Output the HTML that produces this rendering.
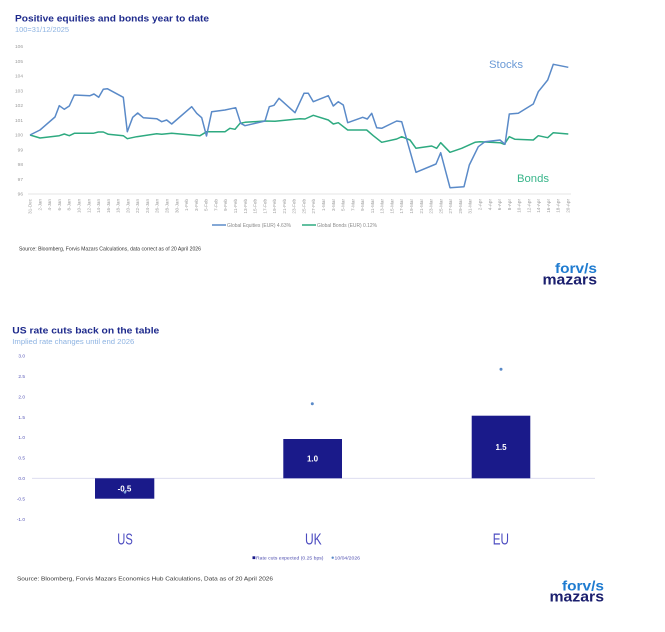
<!DOCTYPE html>
<html><head><meta charset="utf-8"><style>
html,body{margin:0;padding:0;background:#fff;}
svg{display:block;font-family:"Liberation Sans",Arial,sans-serif;}
.tk{font-size:4.6px;fill:#9a9a9a;}
.yl{font-size:4.8px;fill:#9a9a9a;}
.yb{font-size:4.8px;fill:#5a5ab8;}
</style></head><body>
<svg width="665" height="632" viewBox="0 0 665 632" xmlns="http://www.w3.org/2000/svg">
<rect width="665" height="632" fill="#fff"/>
<!-- TOP CHART -->
<text x="15" y="21.7" font-size="9.5" font-weight="bold" fill="#1e2a8c" textLength="194" lengthAdjust="spacingAndGlyphs">Positive equities and bonds year to date</text>
<text x="15" y="32" font-size="7" fill="#8db3e2" textLength="54" lengthAdjust="spacingAndGlyphs">100=31/12/2025</text>
<g class="yl" text-anchor="end">
<text x="23" y="48.2">106</text><text x="23" y="63">105</text><text x="23" y="77.7">104</text><text x="23" y="92.5">103</text><text x="23" y="107.2">102</text><text x="23" y="122">101</text><text x="23" y="136.7">100</text><text x="23" y="151.5">99</text><text x="23" y="166.2">98</text><text x="23" y="181">97</text><text x="23" y="195.7">96</text>
</g>
<line x1="28" y1="194" x2="571" y2="194" stroke="#dcdcdc" stroke-width="0.8"/>
<g class="tk" text-anchor="end">
<text transform="translate(31.6,199) rotate(-90)">31-Dec</text>
<text transform="translate(41.4,199) rotate(-90)">2-Jan</text>
<text transform="translate(51.2,199) rotate(-90)">4-Jan</text>
<text transform="translate(60.9,199) rotate(-90)">6-Jan</text>
<text transform="translate(70.7,199) rotate(-90)">8-Jan</text>
<text transform="translate(80.5,199) rotate(-90)">10-Jan</text>
<text transform="translate(90.3,199) rotate(-90)">12-Jan</text>
<text transform="translate(100.1,199) rotate(-90)">14-Jan</text>
<text transform="translate(109.8,199) rotate(-90)">16-Jan</text>
<text transform="translate(119.6,199) rotate(-90)">18-Jan</text>
<text transform="translate(129.4,199) rotate(-90)">20-Jan</text>
<text transform="translate(139.2,199) rotate(-90)">22-Jan</text>
<text transform="translate(149,199) rotate(-90)">24-Jan</text>
<text transform="translate(158.7,199) rotate(-90)">26-Jan</text>
<text transform="translate(168.5,199) rotate(-90)">28-Jan</text>
<text transform="translate(178.3,199) rotate(-90)">30-Jan</text>
<text transform="translate(188.1,199) rotate(-90)">1-Feb</text>
<text transform="translate(197.9,199) rotate(-90)">3-Feb</text>
<text transform="translate(207.6,199) rotate(-90)">5-Feb</text>
<text transform="translate(217.4,199) rotate(-90)">7-Feb</text>
<text transform="translate(227.2,199) rotate(-90)">9-Feb</text>
<text transform="translate(237,199) rotate(-90)">11-Feb</text>
<text transform="translate(246.8,199) rotate(-90)">13-Feb</text>
<text transform="translate(256.5,199) rotate(-90)">15-Feb</text>
<text transform="translate(266.3,199) rotate(-90)">17-Feb</text>
<text transform="translate(276.1,199) rotate(-90)">19-Feb</text>
<text transform="translate(285.9,199) rotate(-90)">21-Feb</text>
<text transform="translate(295.7,199) rotate(-90)">23-Feb</text>
<text transform="translate(305.4,199) rotate(-90)">25-Feb</text>
<text transform="translate(315.2,199) rotate(-90)">27-Feb</text>
<text transform="translate(325,199) rotate(-90)">1-Mar</text>
<text transform="translate(334.8,199) rotate(-90)">3-Mar</text>
<text transform="translate(344.6,199) rotate(-90)">5-Mar</text>
<text transform="translate(354.3,199) rotate(-90)">7-Mar</text>
<text transform="translate(364.1,199) rotate(-90)">9-Mar</text>
<text transform="translate(373.9,199) rotate(-90)">11-Mar</text>
<text transform="translate(383.7,199) rotate(-90)">13-Mar</text>
<text transform="translate(393.5,199) rotate(-90)">15-Mar</text>
<text transform="translate(403.2,199) rotate(-90)">17-Mar</text>
<text transform="translate(413,199) rotate(-90)">19-Mar</text>
<text transform="translate(422.8,199) rotate(-90)">21-Mar</text>
<text transform="translate(432.6,199) rotate(-90)">23-Mar</text>
<text transform="translate(442.4,199) rotate(-90)">25-Mar</text>
<text transform="translate(452.1,199) rotate(-90)">27-Mar</text>
<text transform="translate(461.9,199) rotate(-90)">29-Mar</text>
<text transform="translate(471.7,199) rotate(-90)">31-Mar</text>
<text transform="translate(481.5,199) rotate(-90)">2-Apr</text>
<text transform="translate(491.3,199) rotate(-90)">4-Apr</text>
<text transform="translate(501,199) rotate(-90)">6-Apr</text>
<text transform="translate(510.8,199) rotate(-90)">8-Apr</text>
<text transform="translate(520.6,199) rotate(-90)">10-Apr</text>
<text transform="translate(530.4,199) rotate(-90)">12-Apr</text>
<text transform="translate(540.2,199) rotate(-90)">14-Apr</text>
<text transform="translate(549.9,199) rotate(-90)">16-Apr</text>
<text transform="translate(559.7,199) rotate(-90)">18-Apr</text>
<text transform="translate(569.5,199) rotate(-90)">20-Apr</text>
</g>
<polyline fill="none" stroke="#2eaa80" stroke-width="1.5" stroke-linejoin="round" points="30,135 40,138 59.3,135.7 64.3,134 69.3,135.7 74.3,133.3 93.3,133.3 98.3,132 103.3,132 108.3,134.3 123.3,135.7 127.3,138.7 136.7,136.7 156.7,133.7 161.7,134.3 171.7,133.3 200,135.7 206.7,131.7 225,131.7 230,128.3 235,129.3 240,123.3 245,122.3 265,121 275,121.3 300,118.7 305,119 313.3,115.3 328.3,120 333.3,124 338.3,122.7 347.7,130 366.7,130 373.3,135.7 381.7,142.3 396.7,139 401.7,136.7 410,140 416,148.3 431.7,146 436.7,148.3 440.7,142.7 450,152.3 461.7,148.3 475,142.3 480,141.7 500,142.7 504.3,144.3 509.3,136.7 515,139.3 533.3,140 538.3,135.7 547.7,137.7 553.3,132.7 568.3,134"/>
<polyline fill="none" stroke="#5a8ac8" stroke-width="1.5" stroke-linejoin="round" points="30,135 40,130 55,117 59.3,105.7 64.3,109.3 69.3,106 74.3,95 90,95.7 94,94 98.7,97.3 103.3,89.3 107.3,88.7 123.3,97.3 127.3,131.7 132.7,117.3 137.7,113 143.3,117.7 156.7,118.7 161.7,121.7 166.7,120 171.7,124 191.7,106.7 196.7,113.3 201.7,117.7 206.5,136 211.7,111.7 225,110 235.7,107.7 240.7,123.3 245,125.7 265,121 269.3,106.7 274,105.3 279,98.3 295,112.7 304,93.3 308.3,93.3 313.3,101.7 328.3,95.7 333.3,106 338.3,101.7 343.3,105 347.7,122.7 362.7,117.3 367.3,119 371.7,113.3 376.7,127.7 381.7,128.3 396.7,121 401.7,121.7 416,172.3 436,164 440.7,152.7 450,187.7 464,186.7 469.3,165 478.3,146.7 485,141.7 500,140 505,144.3 509.3,114 518.3,113.3 533.3,104 538.3,91.7 547.7,80 553.3,64.3 568.3,67.3"/>
<text x="489" y="68" font-size="11" fill="#6b9ad6" textLength="34" lengthAdjust="spacingAndGlyphs">Stocks</text>
<text x="517" y="182" font-size="11" fill="#38b58a" textLength="32" lengthAdjust="spacingAndGlyphs">Bonds</text>
<line x1="212" y1="225" x2="226" y2="225" stroke="#5a8ac8" stroke-width="1.5"/>
<text x="227" y="226.8" font-size="5" fill="#8a8a8a" textLength="64" lengthAdjust="spacingAndGlyphs">Global Equities (EUR) 4.63%</text>
<line x1="302" y1="225" x2="316" y2="225" stroke="#2eaa80" stroke-width="1.5"/>
<text x="317" y="226.8" font-size="5" fill="#8a8a8a" textLength="60" lengthAdjust="spacingAndGlyphs">Global Bonds (EUR) 0.12%</text>
<text x="19" y="250.5" font-size="5" fill="#333" textLength="182" lengthAdjust="spacingAndGlyphs">Source: Bloomberg, Forvis Mazars Calculations, data correct as of 20 April 2026</text>
<text x="555" y="273" font-size="14" font-weight="bold" fill="#1e7bd0" textLength="42" lengthAdjust="spacingAndGlyphs">forv/s</text>
<text x="542.5" y="284.5" font-size="15" font-weight="bold" fill="#1b1f6e" textLength="54.5" lengthAdjust="spacingAndGlyphs">mazars</text>

<!-- BOTTOM CHART -->
<text x="12.3" y="333.5" font-size="9.5" font-weight="bold" fill="#1e2a8c" textLength="147" lengthAdjust="spacingAndGlyphs">US rate cuts back on the table</text>
<text x="12.3" y="343.8" font-size="7.5" fill="#8db3e2" textLength="122" lengthAdjust="spacingAndGlyphs">Implied rate changes until end 2026</text>
<g class="yb" text-anchor="end">
<text x="25" y="357.6">3.0</text><text x="25" y="378">2.5</text><text x="25" y="398.4">2.0</text><text x="25" y="418.8">1.5</text><text x="25" y="439.2">1.0</text><text x="25" y="459.6">0.5</text><text x="25" y="480">0.0</text><text x="25" y="500.4">-0.5</text><text x="25" y="520.8">-1.0</text>
</g>
<line x1="32" y1="478.3" x2="595" y2="478.3" stroke="#d8d8ee" stroke-width="0.8"/>
<rect x="95" y="478.3" width="59.3" height="20.4" fill="#1a1a8a"/>
<rect x="283.3" y="439" width="58.7" height="39.3" fill="#1a1a8a"/>
<rect x="471.7" y="415.7" width="58.6" height="62.6" fill="#1a1a8a"/>
<circle cx="125" cy="492.3" r="1.3" fill="#7aa0d8"/>
<circle cx="312.3" cy="403.7" r="1.5" fill="#5a8ac8"/>
<circle cx="501" cy="369.3" r="1.5" fill="#5a8ac8"/>
<g font-size="8" font-weight="bold" fill="#fff" text-anchor="middle">
<text x="124.5" y="491.7">-0.5</text><text x="312.5" y="461.7">1.0</text><text x="501" y="450">1.5</text>
</g>
<g font-size="15.5" fill="#4b4bc0">
<text x="117.3" y="544.5" textLength="15.5" lengthAdjust="spacingAndGlyphs">US</text>
<text x="305" y="544.5" textLength="16.7" lengthAdjust="spacingAndGlyphs">UK</text>
<text x="492.7" y="544.5" textLength="16.3" lengthAdjust="spacingAndGlyphs">EU</text>
</g>
<rect x="252.5" y="556.3" width="2.8" height="2.8" fill="#1a1a8a"/>
<text x="256" y="559.3" font-size="4.6" fill="#5050b0" textLength="67.5" lengthAdjust="spacingAndGlyphs">Rate cuts expected (0.25 bps)</text>
<circle cx="332.7" cy="557.7" r="1.2" fill="#5a8ac8"/>
<text x="334.5" y="559.3" font-size="4.6" fill="#5050b0" textLength="25.5" lengthAdjust="spacingAndGlyphs">10/04/2026</text>
<text x="17" y="580.5" font-size="5.5" fill="#333" textLength="256" lengthAdjust="spacingAndGlyphs">Source: Bloomberg, Forvis Mazars Economics Hub Calculations, Data as of 20 April 2026</text>
<text x="562" y="590.5" font-size="14" font-weight="bold" fill="#1e7bd0" textLength="42" lengthAdjust="spacingAndGlyphs">forv/s</text>
<text x="549.5" y="601.5" font-size="15" font-weight="bold" fill="#1b1f6e" textLength="54.5" lengthAdjust="spacingAndGlyphs">mazars</text>
</svg>
</body></html>
